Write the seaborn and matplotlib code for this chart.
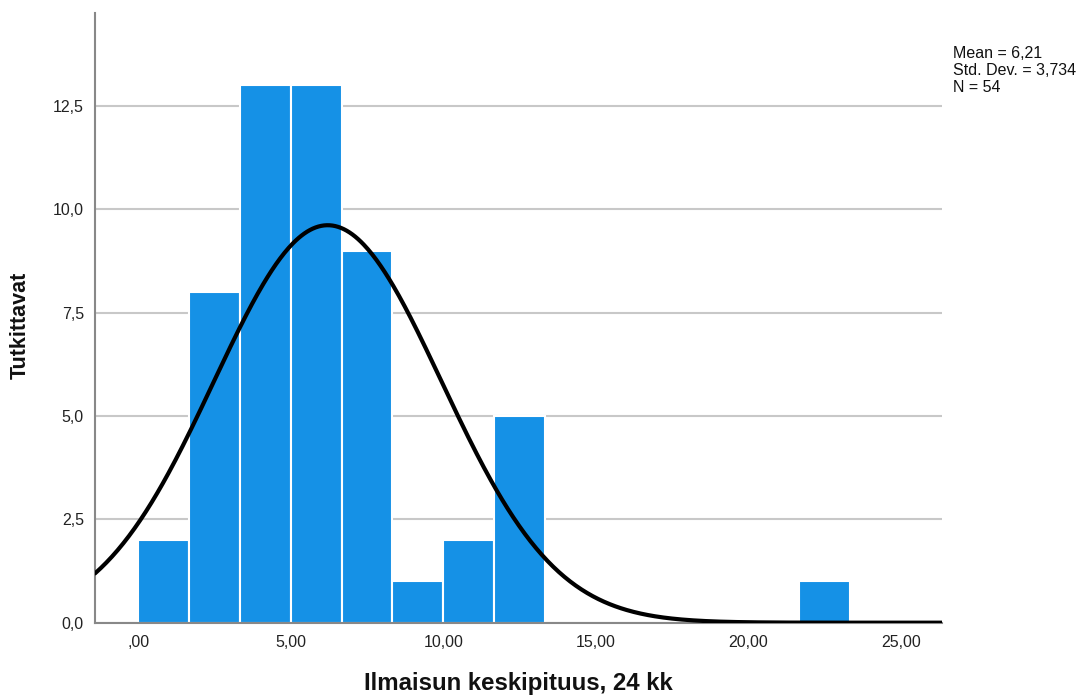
import numpy as np
import pandas as pd
import matplotlib
matplotlib.use("Agg")
import matplotlib.pyplot as plt
import seaborn as sns
from matplotlib.ticker import FuncFormatter, MultipleLocator

# --- data ---
bin_width = 5.0 / 3.0
bin_edges = [i * bin_width for i in range(16)]          # 0 .. 25
bin_counts = [2, 8, 13, 13, 9, 1, 2, 5, 0, 0, 0, 0, 0, 1, 0]
mean_val = 6.21
sd_val = 3.734
n_val = 54
x_label = "Ilmaisun keskipituus, 24 kk"
y_label = "Tutkittavat"
stats_text = "Mean = 6,21\nStd. Dev. = 3,734\nN = 54"

sns.set_theme(style="white")
plt.rcParams['font.family'] = ['Liberation Sans', 'DejaVu Sans']

fig = plt.figure(figsize=(10.82, 6.98), dpi=100)
ax = fig.add_axes([0.0878, 0.1079, 0.7828, 0.8735])

centers = [(bin_edges[i] + bin_edges[i + 1]) / 2 for i in range(len(bin_counts))]
df = pd.DataFrame({"x": centers, "w": bin_counts})

ax.set_axisbelow(True)
ax.yaxis.grid(True, color="#c8c8c8", linewidth=1.5)
ax.xaxis.grid(False)

sns.histplot(data=df, x="x", weights="w", bins=bin_edges, ax=ax,
             color="#1591e6", alpha=1.0, edgecolor="white", linewidth=1.5)

xlim = (-1.42, 26.35)
xs = np.linspace(xlim[0], xlim[1], 600)
ys = n_val * bin_width * np.exp(-0.5 * ((xs - mean_val) / sd_val) ** 2) / (sd_val * np.sqrt(2 * np.pi))
sns.lineplot(x=xs, y=ys, ax=ax, color="black", linewidth=3.0, zorder=5)

ax.set_xlim(*xlim)
ax.set_ylim(0, 14.75)

ax.xaxis.set_major_locator(MultipleLocator(5))
ax.yaxis.set_major_locator(MultipleLocator(2.5))

def fmt_x(v, pos):
    s = f"{v:.2f}".replace(".", ",")
    if s.startswith("0,"):
        s = s[1:]
    return s

def fmt_y(v, pos):
    return f"{v:.1f}".replace(".", ",")

ax.xaxis.set_major_formatter(FuncFormatter(fmt_x))
ax.yaxis.set_major_formatter(FuncFormatter(fmt_y))
ax.tick_params(axis="both", length=0, labelsize=11.5, colors="#222222", pad=9)
ax.tick_params(axis="y", pad=8)

for s in ["top", "right"]:
    ax.spines[s].set_visible(False)
for s in ["left", "bottom"]:
    ax.spines[s].set_color("#888888")
    ax.spines[s].set_linewidth(1.5)

ax.set_xlabel(x_label, fontsize=17.3, fontweight="bold", labelpad=16, color="#111111")
ax.set_ylabel(y_label, fontsize=15.5, fontweight="bold", color="#111111")
ax.yaxis.set_label_coords(-0.0756, 0.488)

fig.text(0.881, 0.934, stats_text, fontsize=11.5, va="top", ha="left",
         linespacing=1.15, color="#111111")

fig.savefig("out.png", dpi=100, facecolor="white")
